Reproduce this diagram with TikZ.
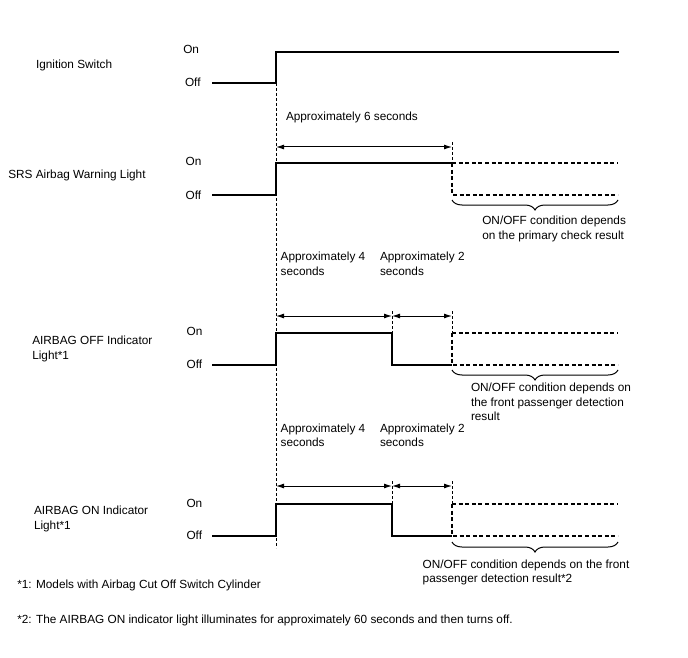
\documentclass[tikz,border=0pt]{standalone}
\usepackage{fontspec}
\setmainfont{Liberation Sans}
\usetikzlibrary{arrows.meta,decorations.pathreplacing}
\begin{document}
\begin{tikzpicture}[x=1pt,y=-1pt,
  txt/.style={inner sep=0pt,outer sep=0pt,font=\fontsize{11.8}{14.3}\selectfont,anchor=west},
  mtxt/.style={inner sep=0pt,outer sep=0pt,font=\fontsize{11.8}{14.3}\selectfont,anchor=north west,align=left},
  sig/.style={line width=1.8pt,line join=miter},
  dsig/.style={line width=1.5pt,dash pattern=on 4pt off 2.6pt},
  thin dash/.style={line width=0.8pt,dash pattern=on 3pt off 2pt},
  span/.style={line width=1pt,{Latex[length=8pt,width=5pt]}-{Latex[length=8pt,width=5pt]}},
  bracebox/.style={line width=1pt,decorate,decoration={brace,mirror,amplitude=10pt}}
]
\useasboundingbox (0,0) rectangle (688,658);
\fill[white] (0,0) rectangle (688,658);

% long dashed reference line
\draw[thin dash] (276,83) coordinate (r1) -- (276,548) coordinate (r2);

% ---------- Ignition switch ----------
\node[txt] (ig) at (36,65) {Ignition Switch};
\node[txt] (igon) at (183.3,49) {On};
\node[txt] (igoff) at (185,82.3) {Off};
\draw[sig] (212,83) coordinate (ig0) -- (276,83) -- (276,52) -- (619,52) coordinate (ig1);

% ---------- SRS airbag warning light ----------
\node[txt] (srs) at (8.3,175.7) {SRS Airbag Warning Light};
\node[txt] (srson) at (185.7,161.7) {On};
\node[txt] (srsoff) at (185.7,195.2) {Off};
\node[txt] (a6) at (286,117) {Approximately 6 seconds};
\coordinate (s1) at (276,147);
\coordinate (s2) at (452,147);
\draw[span] (s1) -- (s2);
\draw[thin dash] (452,142) -- (452,163);
\draw[sig] (212,195) coordinate (sr0) -- (276,195) -- (276,163) -- (452,163) coordinate (sr1);
\draw[dsig] (sr1) -- (618,163);
\draw[dsig] (sr1) -- (452,195) -- (618,195);
\coordinate (b1a) at (452,200);
\coordinate (b1b) at (618,200);
\draw[bracebox] (b1a) -- (b1b);
\node[mtxt] (srsnote) at (482.3,216.3) {ON/OFF condition depends\\on the primary check result};

% ---------- AIRBAG OFF indicator ----------
\node[mtxt] (offl) at (32.3,336.3) {AIRBAG OFF Indicator\\Light*1};
\node[txt] (offon) at (186.7,331) {On};
\node[txt] (offoff) at (186.7,364) {Off};
\node[mtxt] (o4) at (280.7,252.3) {Approximately 4\\seconds};
\node[mtxt] (o2) at (380,252.3) {Approximately 2\\seconds};
\coordinate (o1) at (276,316);
\coordinate (o3) at (392,316);
\coordinate (o5) at (452,316);
\draw[span] (o1) -- (o3);
\draw[span] (o3) -- (o5);
\draw[thin dash] (392,311) -- (392,333);
\draw[thin dash] (452,311) -- (452,333);
\draw[sig] (212,365) -- (276,365) -- (276,333) -- (392,333) -- (392,365) -- (452,365) coordinate (of1);
\draw[dsig] (452,333) -- (618,333);
\draw[dsig] (452,333) -- (of1) -- (618,365);
\coordinate (b2a) at (452,370);
\coordinate (b2b) at (618,370);
\draw[bracebox] (b2a) -- (b2b);
\node[mtxt] (offnote) at (471,383.3) {ON/OFF condition depends on\\the front passenger detection\\result};

% ---------- AIRBAG ON indicator ----------
\node[mtxt] (onl) at (34,506.2) {AIRBAG ON Indicator\\Light*1};
\node[txt] (onon) at (186.5,503.5) {On};
\node[txt] (onoff) at (186.5,535) {Off};
\node[mtxt] (n4) at (280.7,423.6) {Approximately 4\\seconds};
\node[mtxt] (n2) at (380,423.6) {Approximately 2\\seconds};
\coordinate (n1) at (276,486);
\coordinate (n3) at (392,486);
\coordinate (n5) at (452,486);
\draw[span] (n1) -- (n3);
\draw[span] (n3) -- (n5);
\draw[thin dash] (392,481) -- (392,504);
\draw[thin dash] (452,481) -- (452,504);
\draw[sig] (212,536) -- (276,536) -- (276,504) -- (392,504) -- (392,536) -- (452,536) coordinate (on1);
\draw[dsig] (452,504) -- (618,504);
\draw[dsig] (452,504) -- (on1) -- (618,536);
\coordinate (b3a) at (452,542);
\coordinate (b3b) at (618,542);
\draw[bracebox] (b3a) -- (b3b);
\node[mtxt] (onnote) at (422.7,560) {ON/OFF condition depends on the front\\passenger detection result*2};

% ---------- footnotes ----------
\node[txt] (fn1) at (17.3,585) {*1: Models with Airbag Cut Off Switch Cylinder};
\node[txt] (fn2) at (17.3,620.7) {*2: The AIRBAG ON indicator light illuminates for approximately 60 seconds and then turns off.};
\end{tikzpicture}
\end{document}
